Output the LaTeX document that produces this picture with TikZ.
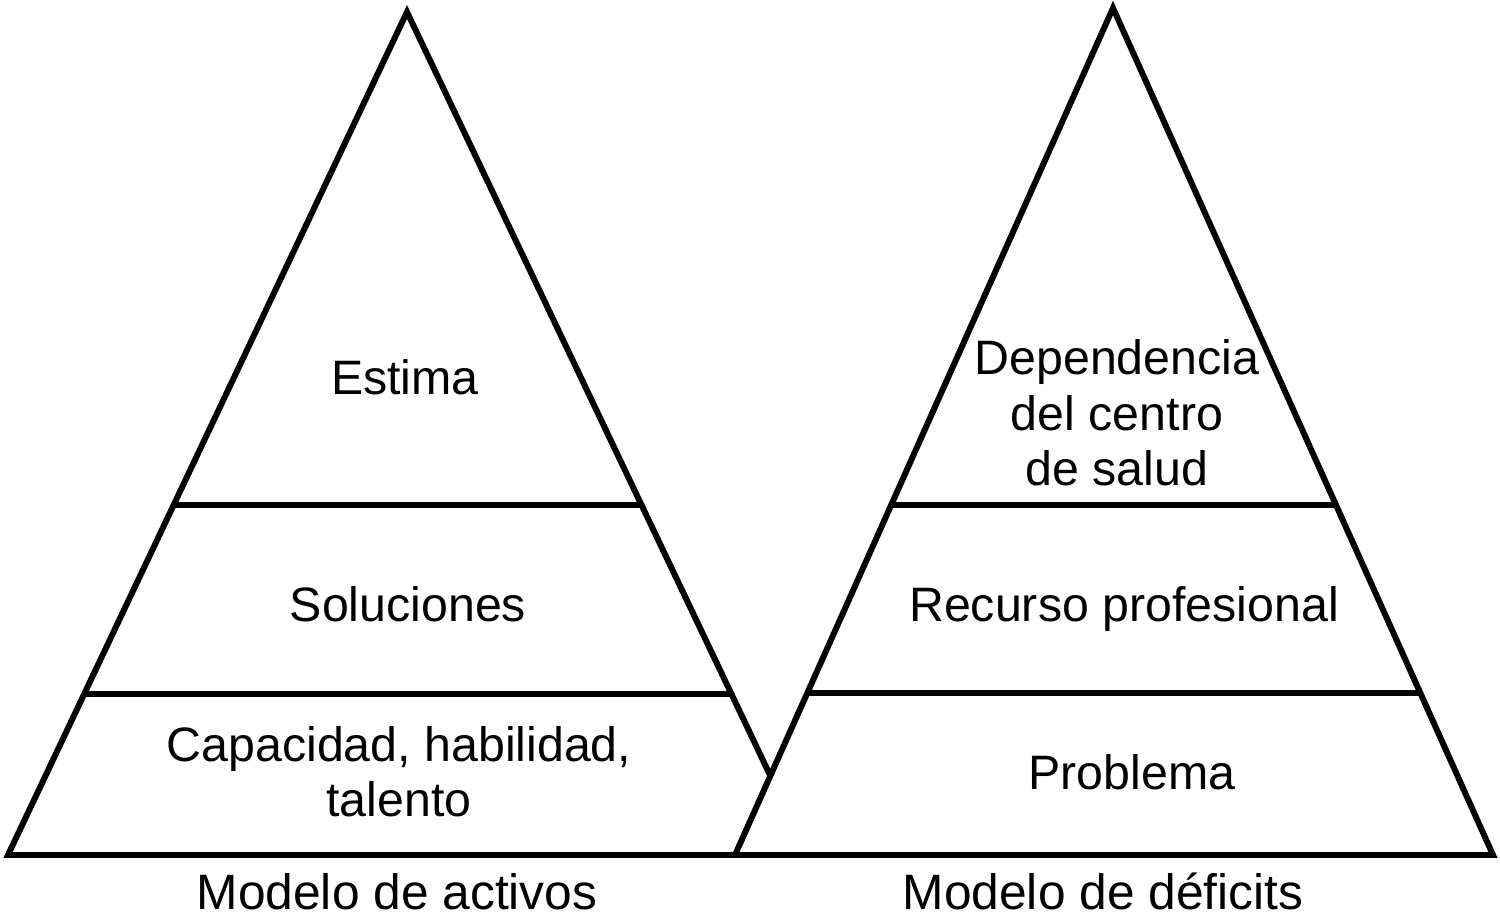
\documentclass[tikz,border=0pt]{standalone}
\usepackage{fontspec}
\setmainfont{Liberation Sans}
\usetikzlibrary{calc}
\begin{document}
\begin{tikzpicture}[x=0.02cm,y=-0.02cm,
  edge/.style={line width=3.4pt,line join=miter,line cap=butt},
  lbl/.style={inner sep=0pt,font=\fontsize{27.5}{31.5}\selectfont,align=center},
  caption/.style={inner sep=0pt,font=\fontsize{28.3}{32}\selectfont}]
\useasboundingbox (0,0) rectangle (1500,918);
% vertices
\coordinate (LA) at (407,12);
\coordinate (LB) at (8,855);
\coordinate (LR) at (808,855);
\coordinate (RA) at (1113,8);
\coordinate (RB) at (735,855);
\coordinate (RC) at (1493,855);
\coordinate (X) at (intersection of LA--LR and RA--RB);
% left division points
\coordinate (L1a) at ($(LA)!0.585!(LB)$);
\coordinate (L1b) at ($(LA)!0.585!(LR)$);
\coordinate (L2a) at ($(LA)!0.8085!(LB)$);
\coordinate (L2b) at ($(LA)!0.8085!(LR)$);
% right division points
\coordinate (R1a) at ($(RA)!0.5868!(RB)$);
\coordinate (R1b) at ($(RA)!0.5868!(RC)$);
\coordinate (R2a) at ($(RA)!0.8087!(RB)$);
\coordinate (R2b) at ($(RA)!0.8087!(RC)$);
% outlines
\draw[edge] (X) -- (LA) -- (LB) -- (RC) -- (RA) -- (RB);
\draw[edge] (L1a) -- (L1b);
\draw[edge] (L2a) -- (L2b);
\draw[edge] (R1a) -- (R1b);
\draw[edge] (R2a) -- (R2b);
% labels
\node[lbl,anchor=base] (estima) at (405,395) {Estima};
\node[lbl,anchor=base] (soluc) at (408,621) {Soluciones};
\node[lbl] (capac) at (399,772) {Capacidad, habilidad,\\talento};
\node[lbl] (depend) at (1117,413) {Dependencia\\del centro\\de salud};
\node[lbl,anchor=base] (recurso) at (1124,621) {Recurso profesional};
\node[lbl,anchor=base] (problema) at (1132,789) {Problema};
\node[caption,anchor=base] (activos) at (397,909) {Modelo de activos};
\node[caption,anchor=base] (deficits) at (1103,909) {Modelo de déficits};
\end{tikzpicture}
\end{document}
